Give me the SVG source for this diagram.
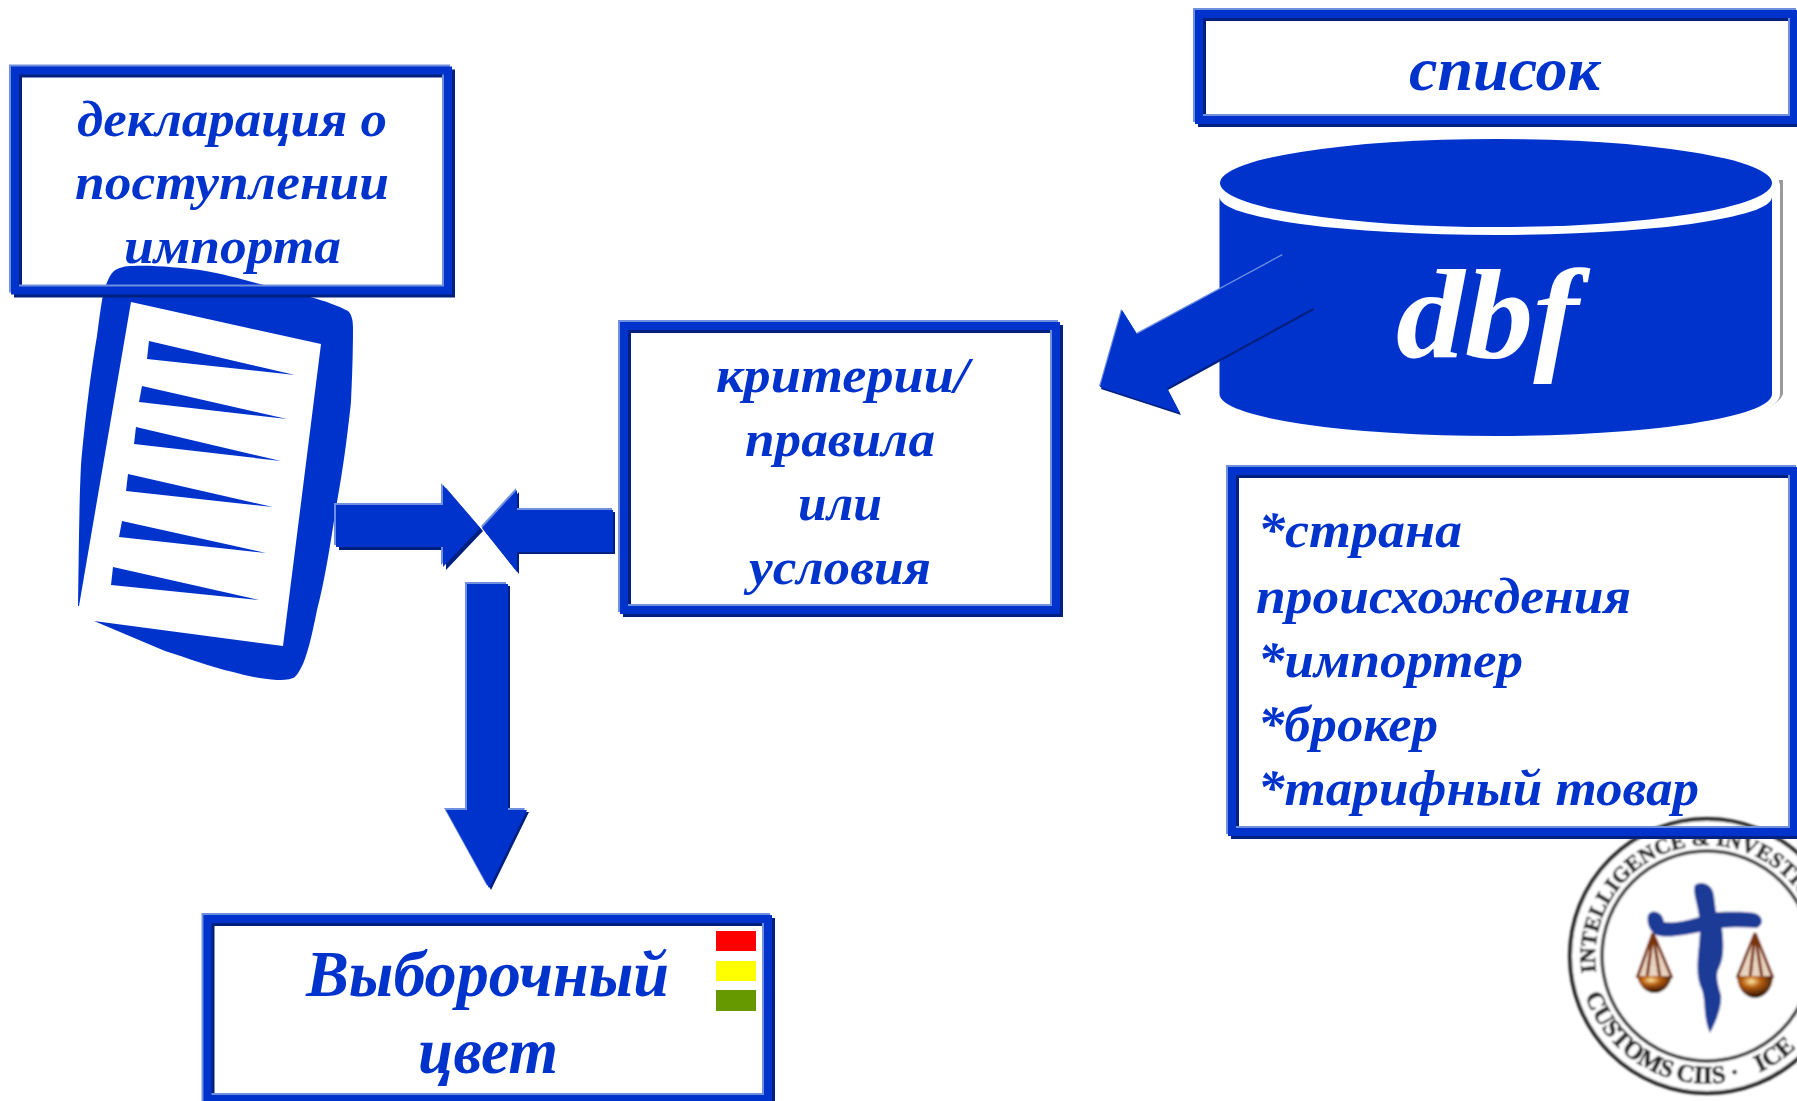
<svg xmlns="http://www.w3.org/2000/svg" xmlns:xlink="http://www.w3.org/1999/xlink" width="1797" height="1101" viewBox="0 0 1797 1101">
<style>
.t{font-family:"Liberation Serif","Noto Sans",serif;font-weight:bold;font-style:italic;fill:#0033cc;font-size:50px}
.big{font-size:66px}
.list{font-size:62px}
.dbf{font-size:128px;fill:#fff}
.m{fill:#0033cc}
.d{fill:#00207f}
.l{fill:#6f8fdf}
.fm,.fd,.fl{fill:none;stroke-width:8}
.fm{stroke:#0033cc}
.fd{stroke:#00207f}
.fl{stroke:#6f8fdf}
.seal{font-family:"Liberation Serif",serif;font-weight:bold;font-size:22px;fill:#222;stroke:#222;stroke-width:0.7}
.seal2{font-size:25px}
</style>
<defs>
<polygon id="aR" points="336,505 443,505 443,485 480,528 443,567 443,547 336,547"/>
<polygon id="aL" points="613,510 517,510 517,490 482,528 517,572 517,552 613,552"/>
<polygon id="aD" points="467,584 508,584 508,810 527,810 489,888 446,810 467,810"/>
<polygon id="aB" points="1283,255 1313,308 1167,388 1180,413 1100,387 1122,310 1137,334"/>
<rect id="b1" x="15" y="70.5" width="433" height="220"/>
<rect id="b2" x="1199" y="14" width="595" height="106"/>
<rect id="b3" x="624" y="326" width="432" height="284"/>
<rect id="b4" x="1232" y="471" width="562" height="361"/>
<rect id="b5" x="207.500" y="919" width="560.500" height="180"/>
<radialGradient id="pan" cx="0.4" cy="0.25" r="0.75"><stop offset="0" stop-color="#ffe9a0"/><stop offset="0.35" stop-color="#b85f10"/><stop offset="1" stop-color="#1e0800"/></radialGradient>
<filter id="soft" x="-5%" y="-5%" width="110%" height="110%"><feGaussianBlur stdDeviation="1"/></filter>
<path id="sealTop" d="M1596,972 A112,112 0 1 1 1819,956"/>
<path id="sealBot" d="M1581,978 A128,128 0 0 0 1833,978"/>
</defs>
<rect width="1797" height="1101" fill="#fff"/>

<g id="logo" filter="url(#soft)">
<circle cx="1707" cy="956" r="137" fill="#fff" stroke="#222" stroke-width="4"/>
<circle cx="1707" cy="956" r="105" fill="#fff" stroke="#333" stroke-width="3.500"/>
<text class="seal"><textPath href="#sealTop" xlink:href="#sealTop">INTELLIGENCE &amp; INVESTIGATION</textPath></text>
<text class="seal seal2"><textPath href="#sealBot" xlink:href="#sealBot" startOffset="18">CUSTOMS</textPath></text>
<text class="seal seal2" text-anchor="middle"><textPath href="#sealBot" xlink:href="#sealBot" startOffset="172">· CIIS ·</textPath></text>
<text class="seal seal2"><textPath href="#sealBot" xlink:href="#sealBot" startOffset="232">ICE</textPath></text>
<path d="M1653,933 L1638,978 L1672,978 Z M1755,933 L1737,978 L1773,978 Z" fill="#e8d4c0"/>
<path d="M1653,933 L1637,978 M1653,933 L1647,978 M1653,933 L1660,978 M1653,933 L1672,978 M1755,933 L1737,978 M1755,933 L1750,978 M1755,933 L1762,978 M1755,933 L1773,978" stroke="#7a3010" stroke-width="3" fill="none"/>
<path d="M1637,976 H1672 A18,22 0 0 1 1637,976 Z" fill="url(#pan)"/>
<path d="M1737,976 H1773 A18,22 0 0 1 1737,976 Z" fill="url(#pan)"/>
<path d="M1648,915 C1652,908 1663,912 1664,922 C1676,924 1692,919 1699,917 C1698,905 1692,892 1695,885 C1703,880 1713,885 1714,896 L1716,912 C1730,912 1750,911 1757,914 C1764,918 1763,925 1757,928 C1745,927 1732,927 1722,928 C1724,945 1724,958 1719,968 C1715,975 1718,985 1721,995 C1722,1005 1718,1018 1710,1033 C1703,1018 1706,1003 1702,990 C1696,978 1697,965 1699,945 L1700,932 C1688,934 1672,938 1660,936 C1650,934 1646,923 1648,915 Z" fill="#1c3a96"/>
</g>

<g id="document">
<path class="m" d="M113,272 C118,267 126,266 133,266 C155,265 180,268 200,270 C225,274 240,279 260,284 L310,297 C325,301 339,306 348,311 C352,315 353,321 353,328 C353,355 352,380 351,402 C347,440 342,475 337,502 C331,540 325,580 317,610 C312,635 308,652 303,664 C299,672 296,677 293,678 C288,680 282,680 277,680 C262,679 247,676 233,672 C210,667 188,658 165,651 L94,621 L283,646 L321,344 L131,302 L79,606 L78,606 C79,550 79,505 81,465 C85,420 91,370 97,336 C99,320 101,305 103,295 C106,284 109,276 113,272 Z"/>
<polygon class="m" points="149,341 295,375 147,359"/>
<polygon class="m" points="142,386 287,419 139,402"/>
<polygon class="m" points="136,427 281,461 134,444"/>
<polygon class="m" points="128,474 273,507 126,491"/>
<polygon class="m" points="122,521 266,553 119,537"/>
<polygon class="m" points="113,567 259,600 111,585"/>
</g>

<g id="box-declaration">
<use href="#b1" xlink:href="#b1" class="fd" x="3" y="3"/>
<use href="#b1" xlink:href="#b1" class="fl" x="-2" y="-2"/>
<use href="#b1" xlink:href="#b1" class="fm"/>
<text class="t" x="77" y="136" textLength="310" lengthAdjust="spacingAndGlyphs">декларация о</text>
<text class="t" x="75" y="199" textLength="314" lengthAdjust="spacingAndGlyphs">поступлении</text>
<text class="t" x="124" y="263" textLength="217" lengthAdjust="spacingAndGlyphs">импорта</text>
</g>

<g id="box-list">
<use href="#b2" xlink:href="#b2" class="fd" x="3" y="3"/>
<use href="#b2" xlink:href="#b2" class="fl" x="-2" y="-2"/>
<use href="#b2" xlink:href="#b2" class="fm"/>
<text class="t list" x="1409" y="90" textLength="191" lengthAdjust="spacingAndGlyphs">список</text>
</g>

<g id="database">
<path d="M1216,180 H1783 V394 A284,52 0 0 1 1216,394 Z" fill="#9a9a9a"/>
<path d="M1213,178 C1400,120 1650,130 1776,170 L1780,185 V394 A283,50 0 0 1 1213,394 Z" fill="#fff"/>
<ellipse class="m" cx="1496" cy="183" rx="276" ry="44"/>
<path class="m" d="M1219.500,197 A276,38 0 0 0 1772,197 V394 A276,42 0 0 1 1219.500,394 Z"/>
<text class="t dbf" x="1396" y="357" textLength="183" lengthAdjust="spacingAndGlyphs">dbf</text>
</g>

<g id="box-criteria">
<use href="#b3" xlink:href="#b3" class="fd" x="3" y="3"/>
<use href="#b3" xlink:href="#b3" class="fl" x="-2" y="-2"/>
<use href="#b3" xlink:href="#b3" class="fm"/>
<text class="t" x="716" y="392" textLength="253" lengthAdjust="spacingAndGlyphs">критерии/</text>
<text class="t" x="745" y="456" textLength="190" lengthAdjust="spacingAndGlyphs">правила</text>
<text class="t" x="798" y="520" textLength="84" lengthAdjust="spacingAndGlyphs">или</text>
<text class="t" x="749" y="584" textLength="182" lengthAdjust="spacingAndGlyphs">условия</text>
</g>

<g id="box-fields">
<use href="#b4" xlink:href="#b4" class="fd" x="3" y="3"/>
<use href="#b4" xlink:href="#b4" class="fl" x="-2" y="-2"/>
<use href="#b4" xlink:href="#b4" class="fm"/>
<text class="t" x="1258" y="547" textLength="204" lengthAdjust="spacingAndGlyphs">*страна</text>
<text class="t" x="1256" y="613" textLength="375" lengthAdjust="spacingAndGlyphs">происхождения</text>
<text class="t" x="1258" y="677" textLength="265" lengthAdjust="spacingAndGlyphs">*импортер</text>
<text class="t" x="1258" y="741" textLength="180" lengthAdjust="spacingAndGlyphs">*брокер</text>
<text class="t" x="1258" y="805" textLength="441" lengthAdjust="spacingAndGlyphs">*тарифный товар</text>
</g>

<g id="box-result">
<use href="#b5" xlink:href="#b5" class="fd" x="3" y="3"/>
<use href="#b5" xlink:href="#b5" class="fl" x="-2" y="-2"/>
<use href="#b5" xlink:href="#b5" class="fm"/>
<text class="t big" x="306" y="996" textLength="363" lengthAdjust="spacingAndGlyphs">Выборочный</text>
<text class="t big" x="418" y="1073" textLength="140" lengthAdjust="spacingAndGlyphs">цвет</text>
<rect x="716" y="931" width="40" height="20" fill="#ff0000"/>
<rect x="716" y="961" width="40" height="20" fill="#ffff00"/>
<rect x="716" y="990" width="40" height="21" fill="#669900"/>
</g>

<g id="connectors">
<use href="#aR" xlink:href="#aR" class="d" x="3" y="3"/><use href="#aR" xlink:href="#aR" class="l" x="-2" y="-2"/><use href="#aR" xlink:href="#aR" class="m"/>
<use href="#aL" xlink:href="#aL" class="d" x="2" y="2"/><use href="#aL" xlink:href="#aL" class="l" x="-1" y="-2"/><use href="#aL" xlink:href="#aL" class="m"/>
<use href="#aD" xlink:href="#aD" class="d" x="2" y="2"/><use href="#aD" xlink:href="#aD" class="l" x="-2" y="-2"/><use href="#aD" xlink:href="#aD" class="m"/>
<use href="#aB" xlink:href="#aB" class="d" x="1" y="2"/><use href="#aB" xlink:href="#aB" class="l" x="-1" y="-1"/><use href="#aB" xlink:href="#aB" class="m"/>
</g>
</svg>
